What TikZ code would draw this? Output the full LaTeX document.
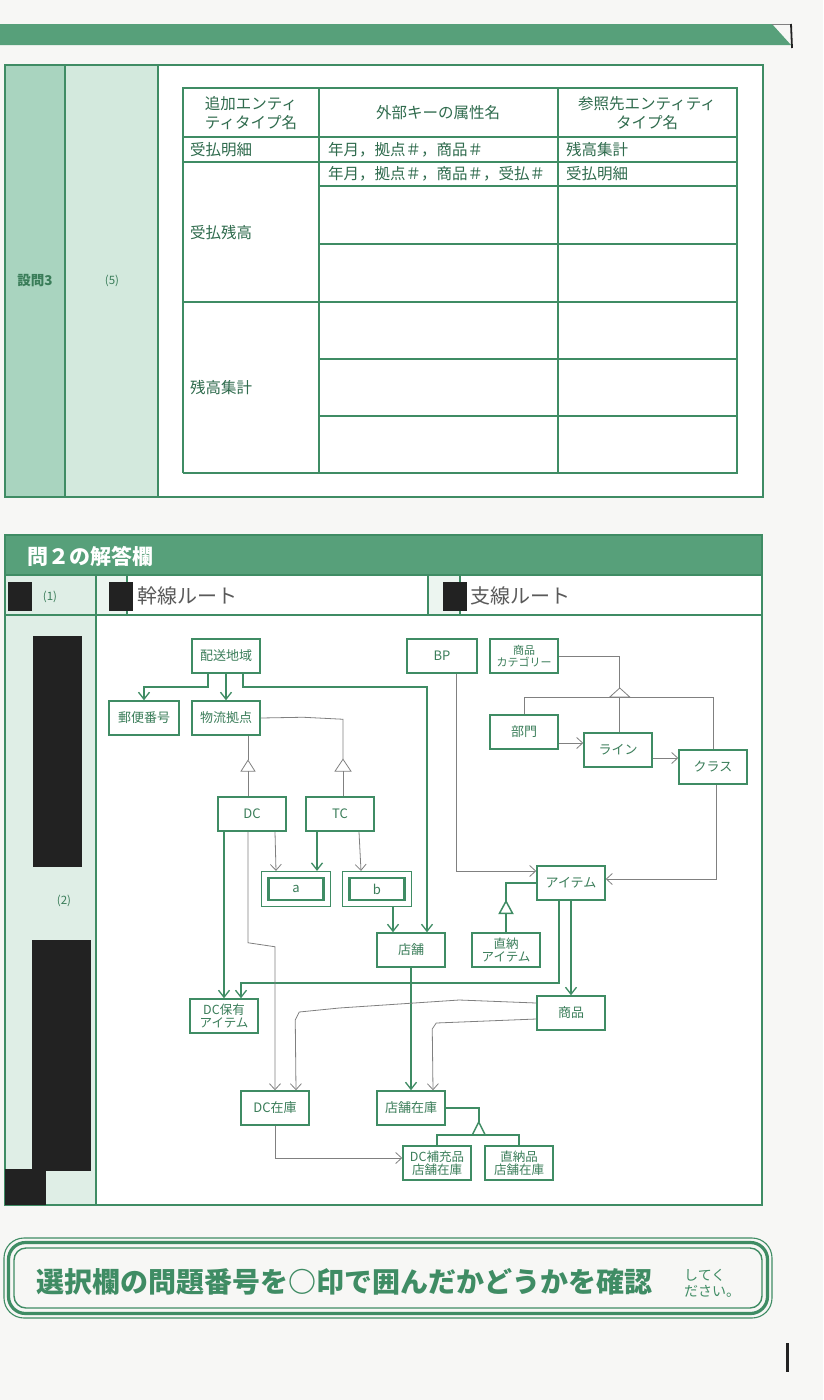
\documentclass[tikz,border=0pt]{standalone}
\usepackage{fontspec}
\setmainfont{Noto Sans CJK JP}
\usetikzlibrary{arrows.meta,calc}
\definecolor{g}{HTML}{3F8C64}
\definecolor{gt}{HTML}{3A7D59}
\definecolor{tt}{HTML}{2F6B4D}
\definecolor{band}{HTML}{57A07A}
\definecolor{cA}{HTML}{A9D4BF}
\definecolor{cB}{HTML}{D3E9DD}
\definecolor{cC}{HTML}{DFEEE6}
\definecolor{paper}{HTML}{F7F7F5}
\definecolor{pc}{HTML}{808080}
\definecolor{blk}{HTML}{222222}
\definecolor{hw}{HTML}{5A5A5A}
\begin{document}
\begin{tikzpicture}[x=1pt,y=-1pt,
  ent/.style={draw=g, line width=1.5pt, fill=white, minimum width=68pt, minimum height=34pt, inner sep=0pt, text=gt, align=center, font=\fontsize{13}{14}\selectfont},
  two/.style={font=\fontsize{12.5}{12.5}\selectfont},
  garr/.style={draw=g, line width=1.5pt, -{Straight Barb[length=7pt,width=11pt,line width=1.3pt]}},
  gline/.style={draw=g, line width=1.5pt},
  pen/.style={draw=pc, line width=0.8pt},
  parr/.style={draw=pc, line width=0.8pt, -{Straight Barb[length=6pt,width=11pt,line width=0.8pt]}},
  thinl/.style={draw=g, line width=1.1pt},
  thickl/.style={draw=g, line width=2.4pt},
  tx/.style={text=tt, inner sep=0pt, font=\fontsize{15.5}{19}\selectfont, align=center},
  small/.style={text=gt, inner sep=0pt, font=\fontsize{11.5}{12}\selectfont},
  hand/.style={text=hw, inner sep=0pt, font=\fontsize{20}{22}\selectfont}
]
\useasboundingbox (0,0) rectangle (823,1400);
\fill[paper] (0,0) rectangle (823,1400);

% ---- top band ----
\fill[band] (0,24) -- (772,24) -- (791,45) -- (0,45) -- cycle;
\draw[pc, line width=1pt] (772,24.5) -- (791,24.5);
\draw[blk, line width=1.8pt] (791,24) -- (792,48);

% ---- top section ----
\fill[cA] (5,65) rectangle (65,497);
\fill[cB] (65,65) rectangle (158,497);
\fill[white] (158,65) rectangle (763,497);
\draw[g, line width=1.3pt] (5,65) rectangle (763,497);
\draw[thinl] (65,65) -- (65,497) (158,65) -- (158,497);
\node[small, font=\fontsize{13.5}{14}\selectfont\bfseries] (q3) at (35,281) {設問3};
\node[small] (q5) at (112,281) {(5)};

% table thin part
\draw[thinl] (183,473) -- (183,88) -- (737,88) -- (737,186);
\draw[thinl] (183,137) -- (737,137);
\draw[thinl] (183,162) -- (737,162);
\draw[thinl] (319,88) -- (319,186) (558,88) -- (558,186);
\draw[thinl] (183,473) -- (319,473);
\draw[thinl] (183,302) -- (319,302);
% table thick part
\draw[thickl] (319,186) rectangle (737,473);
\draw[thickl] (319,244) -- (737,244) (319,302) -- (737,302) (319,359) -- (737,359) (319,416) -- (737,416);
\draw[thickl] (558,186) -- (558,473);

\node[tx] (h1) at (251,113) {追加エンティ\\ティタイプ名};
\node[tx] (h2) at (438,113) {外部キーの属性名};
\node[tx] (h3) at (647,113) {参照先エンティティ\\タイプ名};
\node[tx, anchor=west] (r1a) at (190,150) {受払明細};
\node[tx, anchor=west] (r1b) at (328,150) {年月，拠点＃，商品＃};
\node[tx, anchor=west] (r1c) at (566,150) {残高集計};
\node[tx, anchor=west] (r2b) at (328,174) {年月，拠点＃，商品＃，受払＃};
\node[tx, anchor=west] (r2c) at (566,174) {受払明細};
\node[tx, anchor=west] (r2a) at (190,233) {受払残高};
\node[tx, anchor=west] (r3a) at (190,388) {残高集計};

% ---- question 2 section ----
\fill[band] (5,535) rectangle (762,575);
\node[inner sep=0pt, text=white, anchor=west, font=\fontsize{21}{22}\selectfont\bfseries] (q2) at (27,556) {問２の解答欄};
\fill[white] (5,575) rectangle (762,1205);
\fill[cC] (5,575) rectangle (96,1205);
\fill[cC!60] (96,575) rectangle (127,615);
\fill[cC!60] (428,575) rectangle (460,615);
\draw[g, line width=1.3pt] (5,535) rectangle (762,1205);
\draw[thinl] (5,575) -- (762,575) (5,615) -- (762,615);
\draw[thinl] (96,575) -- (96,1205);
\draw[thinl] (127,575) -- (127,615) (428,575) -- (428,615) (460,575) -- (460,615);
\node[small] (n1) at (50,597) {(1)};
\node[small] (n2) at (64,901) {(2)};
\fill[blk] (8,582) rectangle (32,611);
\fill[blk] (109,582) rectangle (133,611);
\fill[blk] (443,582) rectangle (467,611);
\fill[blk] (33,636) rectangle (82,867);
\fill[blk] (32,940) rectangle (91,1171);
\fill[blk] (5,1169) rectangle (46,1205);
\node[hand, anchor=west] (hw1) at (137,596) {幹線ルート};
\node[hand, anchor=west] (hw2) at (470,596) {支線ルート};

% ---- entities ----
\node[ent] (haiso) at (226,656) {配送地域};
\node[ent, minimum width=70pt] (yubin) at (144,718) {郵便番号};
\node[ent] (butsu) at (226,718) {物流拠点};
\node[ent, minimum width=70pt] (bp) at (442,656) {BP};
\node[ent, font=\fontsize{11}{11.5}\selectfont] (cat) at (524,656) {商品\\カテゴリー};
\node[ent] (bumon) at (524,732) {部門};
\node[ent] (lin) at (618,750) {ライン};
\node[ent] (cls) at (713,767) {クラス};
\node[ent] (dc) at (252,814) {DC};
\node[ent] (tc) at (340,814) {TC};
\node[ent, minimum width=69pt, minimum height=35pt, line width=1.2pt] (a) at (296,889) {};
\node[draw=g, line width=2.6pt, minimum width=55pt, minimum height=22pt, inner sep=0pt, text=gt, font=\fontsize{13}{14}\selectfont] (ai) at (a.center) {a};
\node[ent, minimum width=69pt, minimum height=35pt, line width=1.2pt] (b) at (377,889) {};
\node[draw=g, line width=2.6pt, minimum width=55pt, minimum height=22pt, inner sep=0pt, text=gt, font=\fontsize{13}{14}\selectfont] (bi) at (b.center) {b};
\node[ent] (tenpo) at (411,950) {店舗};
\node[ent, two] (choku) at (506,950) {直納\\アイテム};
\node[ent] (item) at (571,883) {アイテム};
\node[ent, two] (dch) at (224,1016) {DC保有\\アイテム};
\node[ent] (shohin) at (571,1013) {商品};
\node[ent] (dcz) at (275,1108) {DC在庫};
\node[ent] (tz) at (411,1108) {店舗在庫};
\node[ent, two] (dcs) at (437,1163) {DC補充品\\店舗在庫};
\node[ent, two] (cks) at (519,1163) {直納品\\店舗在庫};

% ---- printed (green) connectors ----
\draw[garr] ([xshift=-18pt]haiso.south) -- ++(0,13) -| (yubin.north);
\draw[garr] (haiso.south) -- (butsu.north);
\draw[garr] ([xshift=17pt]haiso.south) -- ++(0,13) -| ([xshift=16pt]tenpo.north);
\draw[garr] (dc.south -| dch.north) -- (dch.north);
\coordinate (aN) at ($(a.north)+(21,0)$);
\draw[garr] (tc.south -| aN) -- (aN);
\coordinate (bS) at ($(b.south)+(16,0)$);
\draw[garr] (bS) -- (bS |- tenpo.north);
\draw[garr] ([xshift=-12pt]item.south) -- ++(0,82) -| ([xshift=17pt]dch.north);
\draw[garr] (item.south) -- (shohin.north);
\draw[garr] (tenpo.south) -- (tz.north);
\draw[gline] (choku.north) |- (item.west);
\coordinate (t1) at ($(choku.north)+(0,-19)$);
\draw[gline, fill=white] ($(t1)+(-6.5,0)$) -- ($(t1)+(0,-12)$) -- ($(t1)+(6.5,0)$) -- cycle;
\coordinate (apx) at ($(tz.east)+(33,14)$);
\draw[gline] (tz.east) -| (apx);
\draw[gline] ($(apx)+(-6.5,13)$) -- (apx) -- ($(apx)+(6.5,13)$);
\draw[gline] (dcs.north) -- ++(0,-10.5) -| (cks.north);

% ---- pencil connectors ----
\coordinate (t2) at ($(dc.north)+(-4,-25)$);
\draw[pen] ([xshift=-4pt]dc.north) -- (t2);
\draw[pen] ($(t2)+(-7,0)$) -- ($(t2)+(0,-11)$) -- ($(t2)+(7,0)$) -- cycle;
\draw[pen] ($(t2)+(0,-11)$) -- (t2 |- butsu.south);
\coordinate (t3) at ($(tc.north)+(3,-25)$);
\draw[pen] ([xshift=3pt]tc.north) -- (t3);
\draw[pen] ($(t3)+(-8,0)$) -- ($(t3)+(0,-12)$) -- ($(t3)+(8,0)$) -- cycle;
\draw[pen] ($(t3)+(0,-12)$) -- ++(0,-40) -- ++(-40,-2) -- (butsu.east);
\draw[parr] ([xshift=23pt]dc.south) -- ([xshift=-20pt]a.north);
\draw[parr] ([xshift=19pt]tc.south) -- ([xshift=-16pt]b.north);
\draw[parr] ([xshift=-4pt]dc.south) -- ++(0,111) -- ++(27,4) -- (dcz.north);
\draw[parr] ($(shohin.west)+(0,-10)$) -- ++(-77,-3) -- ++(-120,8) -- ++(-40,4) -- ++(-4,8) -- ($(dcz.north)+(21,0)$);
\draw[parr] ($(shohin.west)+(0,6)$) -- ++(-100,4) -- ++(-4,6) -- ($(tz.north)+(22,0)$);
\draw[parr] (dcz.south) |- ($(dcs.west)+(0,-5)$);
\draw[parr] ([xshift=14pt]bp.south) |- ($(item.west)+(0,-12)$);
\coordinate (t4) at ($(cat.east)+(61,32)$);
\draw[pen] (cat.east) -| (t4);
\draw[pen] (t4) -- ++(-10,9) -- ++(20,0) -- cycle;
\coordinate (t5) at ($(t4)+(0,9)$);
\draw[pen] (bumon.north) -- (bumon.north |- t5) -- (cls.north |- t5) -- (cls.north);
\draw[pen] (t5) -- (t5 |- lin.north);
\draw[parr] ($(bumon.east)+(0,11)$) -- ($(lin.west)+(0,-7)$);
\draw[parr] ($(lin.east)+(0,8)$) -- ($(cls.west)+(0,-9)$);
\draw[parr] ([xshift=3pt]cls.south) |- ($(item.east)+(0,-4)$);

% ---- bottom banner ----
\draw[g, line width=1.1pt, rounded corners=20pt] (4,1238) rectangle (772,1318);
\draw[g, line width=3.2pt, rounded corners=17pt] (8.5,1242.5) rectangle (767.5,1313.5);
\draw[g, line width=1.4pt, rounded corners=12pt] (14,1248) rectangle (762,1308);
\node[inner sep=0pt, anchor=west, text=g, font=\fontsize{28}{30}\selectfont\bfseries] (bn) at (36,1282) {選択欄の問題番号を○印で囲んだかどうかを確認};
\node[inner sep=0pt, anchor=west, text=g, align=left, font=\fontsize{14}{16}\selectfont] (bn2) at (684,1283) {してく\\ださい。};
\fill[blk] (786,1343) rectangle (789,1372);
\end{tikzpicture}
\end{document}
